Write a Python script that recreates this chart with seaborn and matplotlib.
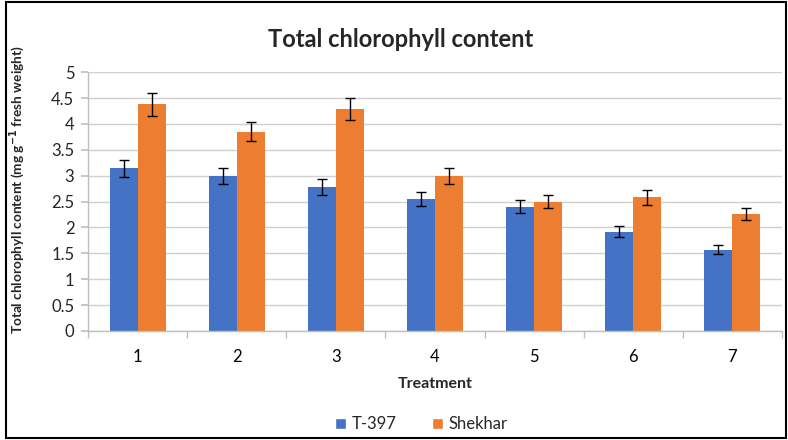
import pandas as pd
import matplotlib.pyplot as plt
import seaborn as sns
from matplotlib.patches import Rectangle, Patch

# Data
treatments = ['1', '2', '3', '4', '5', '6', '7']
t397 = [3.14, 2.99, 2.78, 2.55, 2.40, 1.92, 1.57]
t397_err = [0.16, 0.15, 0.15, 0.13, 0.12, 0.10, 0.09]
shekhar = [4.38, 3.85, 4.29, 2.99, 2.50, 2.58, 2.26]
shekhar_err = [0.22, 0.19, 0.21, 0.15, 0.13, 0.14, 0.12]
series = ['T-397', 'Shekhar']
colors = ['#4472C4', '#ED7D31']

df = pd.DataFrame({
    'Treatment': treatments * 2,
    'Variety': [series[0]] * 7 + [series[1]] * 7,
    'Value': t397 + shekhar,
})

sns.set_theme(style="white")
plt.rcParams['font.family'] = ['Lato', 'DejaVu Sans']

fig = plt.figure(figsize=(7.88, 4.40), dpi=100)
ax = fig.add_axes([0.112, 0.248, 0.880, 0.588])

sns.barplot(data=df, x='Treatment', y='Value', hue='Variety', hue_order=series,
            palette=colors, width=0.57, saturation=1, errorbar=None,
            linewidth=0, legend=False, ax=ax)

# error bars on top of each bar
for cont, errs in zip(ax.containers, [t397_err, shekhar_err]):
    for bar, e in zip(cont, errs):
        ax.errorbar(bar.get_x() + bar.get_width() / 2, bar.get_height(), yerr=e,
                    fmt='none', ecolor='black', elinewidth=1, capsize=3.5,
                    capthick=1)

ax.set_ylim(0, 5)
ax.set_xlim(-0.5, 6.5)
ax.set_yticks([i * 0.5 for i in range(11)])
ax.set_yticklabels(['0', '0.5', '1', '1.5', '2', '2.5', '3', '3.5', '4', '4.5', '5'])
ax.yaxis.grid(True, color='#D0D0D0', linewidth=1)
ax.set_axisbelow(True)

for s in ['top', 'right']:
    ax.spines[s].set_visible(False)
for s in ['left', 'bottom']:
    ax.spines[s].set_color('#BFBFBF')
    ax.spines[s].set_linewidth(1)

ax.tick_params(axis='y', which='major', left=True, length=5, color='#BFBFBF',
               labelsize=12, labelcolor='#262626', pad=5)
ax.tick_params(axis='x', which='major', bottom=False, labelsize=12,
               labelcolor='#000000', pad=7)
ax.set_xticks([i + 0.5 for i in range(-1, 7)], minor=True)
ax.tick_params(axis='x', which='minor', bottom=True, length=5, color='#BFBFBF')

ax.set_xlabel('Treatment', fontsize=11.5, fontweight='bold', labelpad=9)
ax.set_ylabel('Total chlorophyll content (mg g$^{\\mathbf{-1}}$ fresh weight)',
              fontsize=9.8, fontweight='bold')
ax.yaxis.set_label_coords(-0.088, 0.545)

fig.text(0.508, 0.91, 'Total chlorophyll content', ha='center', va='center',
         fontsize=17, fontweight='bold')

handles = [Patch(facecolor=c, label=s) for c, s in zip(colors, series)]
fig.legend(handles=handles, loc='center', bbox_to_anchor=(0.535, 0.036), ncol=2,
           frameon=False, fontsize=12, handlelength=0.65, handleheight=0.65,
           columnspacing=2.1, handletextpad=0.35)

fig.patches.append(Rectangle((0.008, 0.004), 0.989, 0.992, transform=fig.transFigure,
                             fill=False, edgecolor='black', linewidth=1.5))

fig.savefig('out.png', dpi=100)
